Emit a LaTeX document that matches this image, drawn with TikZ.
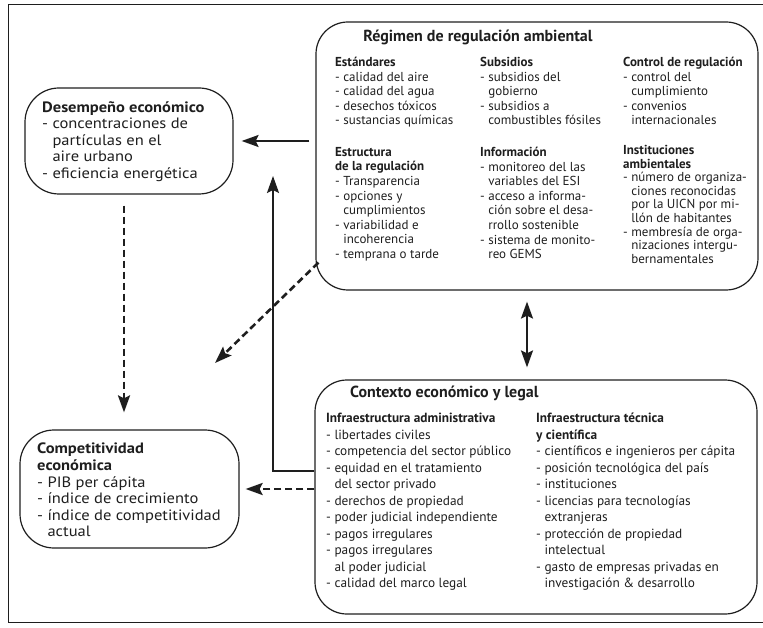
\documentclass[tikz,border=0pt]{standalone}
\usepackage{fontspec}
\setmainfont{PT Sans}
\newfontfamily\widefont{PT Sans}[FakeStretch=1.1]
\usetikzlibrary{arrows.meta}
\definecolor{ink}{HTML}{1E1E1E}
\begin{document}
\begin{tikzpicture}[x=1pt,y=-1pt,
  box/.style={draw=ink,line width=1.2pt,rounded corners=32pt,inner sep=0pt},
  tip/.style={},
  con/.style={draw=ink,line width=2.2pt,-{Stealth[length=17pt,width=12pt,inset=3pt]}},
  dcon/.style={con,line width=2.6pt,dash pattern=on 7pt off 4pt},
  bicon/.style={draw=ink,line width=2.2pt,{Stealth[length=17pt,width=12pt,inset=3pt]}-{Stealth[length=17pt,width=12pt,inset=3pt]}},
  col/.style={inner sep=0pt,anchor=north west,align=left,text=ink,font=\fontsize{13}{14.6}\selectfont},
  bcol/.style={col,font=\fontsize{13.3}{16.5}\selectfont},
  lcol/.style={col,font=\widefont\fontsize{15}{16.6}\selectfont},
  ttl/.style={inner sep=0pt,text=ink,font=\bfseries\fontsize{16}{18}\selectfont}]
\useasboundingbox (0,0) rectangle (763,628);
\draw[ink,line width=1pt] (763,5) -- (8,5) -- (8,622) -- (763,622);

% boxes
\node[box,minimum width=442pt,minimum height=268pt] (reg) at (537,156) {};
\node[box,minimum width=442pt,minimum height=234pt] (ctx) at (536,497) {};
\node[box,rounded corners=34pt,minimum width=208pt,minimum height=106pt] (des) at (129,141) {};
\node[box,rounded corners=34pt,minimum width=219pt,minimum height=118pt] (comp) at (129.5,489) {};

% top box texts
\node[ttl] (regt) at (478,37) {Régimen de regulación ambiental};
\node[col] (std) at (335,57) {\textbf{Estándares}\\- calidad del aire\\- calidad del agua\\- desechos tóxicos\\- sustancias químicas};
\node[col] (sub) at (480,57) {\textbf{Subsidios}\\- subsidios del\\\phantom{- }gobierno\\- subsidios a\\\phantom{- }combustibles fósiles};
\node[col] (ctl) at (623,57) {\textbf{Control de regulación}\\- control del\\\phantom{- }cumplimiento\\- convenios\\\phantom{- }internacionales};
\node[col] (est) at (335,147) {\textbf{Estructura}\\\textbf{de la regulación}\\- Transparencia\\- opciones y\\\phantom{- }cumplimientos\\- variabilidad e\\\phantom{- }incoherencia\\- temprana o tarde};
\node[col] (inf) at (480,147) {\textbf{Información}\\- monitoreo del las\\\phantom{- }variables del ESI\\- acceso a informa-\\\phantom{- }ción sobre el desa-\\\phantom{- }rrollo sostenible\\- sistema de monito-\\\phantom{- }reo GEMS};
\node[col,font=\fontsize{13}{13.6}\selectfont] (ins) at (623,145) {\textbf{Instituciones}\\\textbf{ambientales}\\- número de organiza-\\\phantom{- }ciones reconocidas\\\phantom{- }por la UICN por mi-\\\phantom{- }llón de habitantes\\- membresía de orga-\\\phantom{- }nizaciones intergu-\\\phantom{- }bernamentales};

% bottom box texts
\node[ttl,anchor=west] (ctxt) at (350,393) {Contexto económico y legal};
\node[bcol] (adm) at (326,413) {\textbf{Infraestructura administrativa}\\- libertades civiles\\- competencia del sector público\\- equidad en el tratamiento\\\phantom{- }del sector privado\\- derechos de propiedad\\- poder judicial independiente\\- pagos irregulares\\- pagos irregulares\\\phantom{- }al poder judicial\\- calidad del marco legal};
\node[bcol] (tec) at (536,413) {\textbf{Infraestructura técnica}\\\textbf{y científica}\\- científicos e ingenieros per cápita\\- posición tecnológica del país\\- instituciones\\- licencias para tecnologías\\\phantom{- }extranjeras\\- protección de propiedad\\\phantom{- }intelectual\\- gasto de empresas privadas en\\\phantom{- }investigación \& desarrollo};

% left box texts
\node[lcol] (dest) at (42,101) {\textbf{Desempeño económico}\\- concentraciones de\\\phantom{- }partículas en el\\\phantom{- }aire urbano\\- eficiencia energética};
\node[lcol] (compt) at (37,443) {\textbf{Competitividad}\\\textbf{económica}\\- PIB per cápita\\- índice de crecimiento\\- índice de competitividad\\\phantom{- }actual};

% connectors
\coordinate (a1s) at ([xshift=-6pt]reg.west |- des.east);
\coordinate (a1e) at ([xshift=8pt]des.east);
\draw[con] (a1s) -- (a1e);

\coordinate (upbend) at (273,471);
\coordinate (uptip) at (273,176);
\draw[con] (ctx.west |- upbend) -- (upbend) -- (uptip);

\coordinate (dgs) at ([xshift=3pt,yshift=28pt]reg.south west);
\coordinate (dge) at (215,363);
\draw[dcon] (dgs) -- (dge);

\coordinate (dvs) at ([xshift=-5pt,yshift=-11pt]des.south);
\coordinate (dve) at ([xshift=-5.5pt,yshift=17pt]comp.north);
\draw[dcon] (dvs) -- (dve);

\coordinate (dhs) at (ctx.west |- comp.east);
\coordinate (dhe) at ([xshift=6pt]comp.east);
\draw[dcon] (dhs) -- (dhe);

\coordinate (bis) at ([xshift=-10pt,yshift=-11pt]reg.south);
\coordinate (bie) at ([xshift=-9pt,yshift=12pt]ctx.north);
\draw[bicon] (bis) -- (bie);
\end{tikzpicture}
\end{document}
